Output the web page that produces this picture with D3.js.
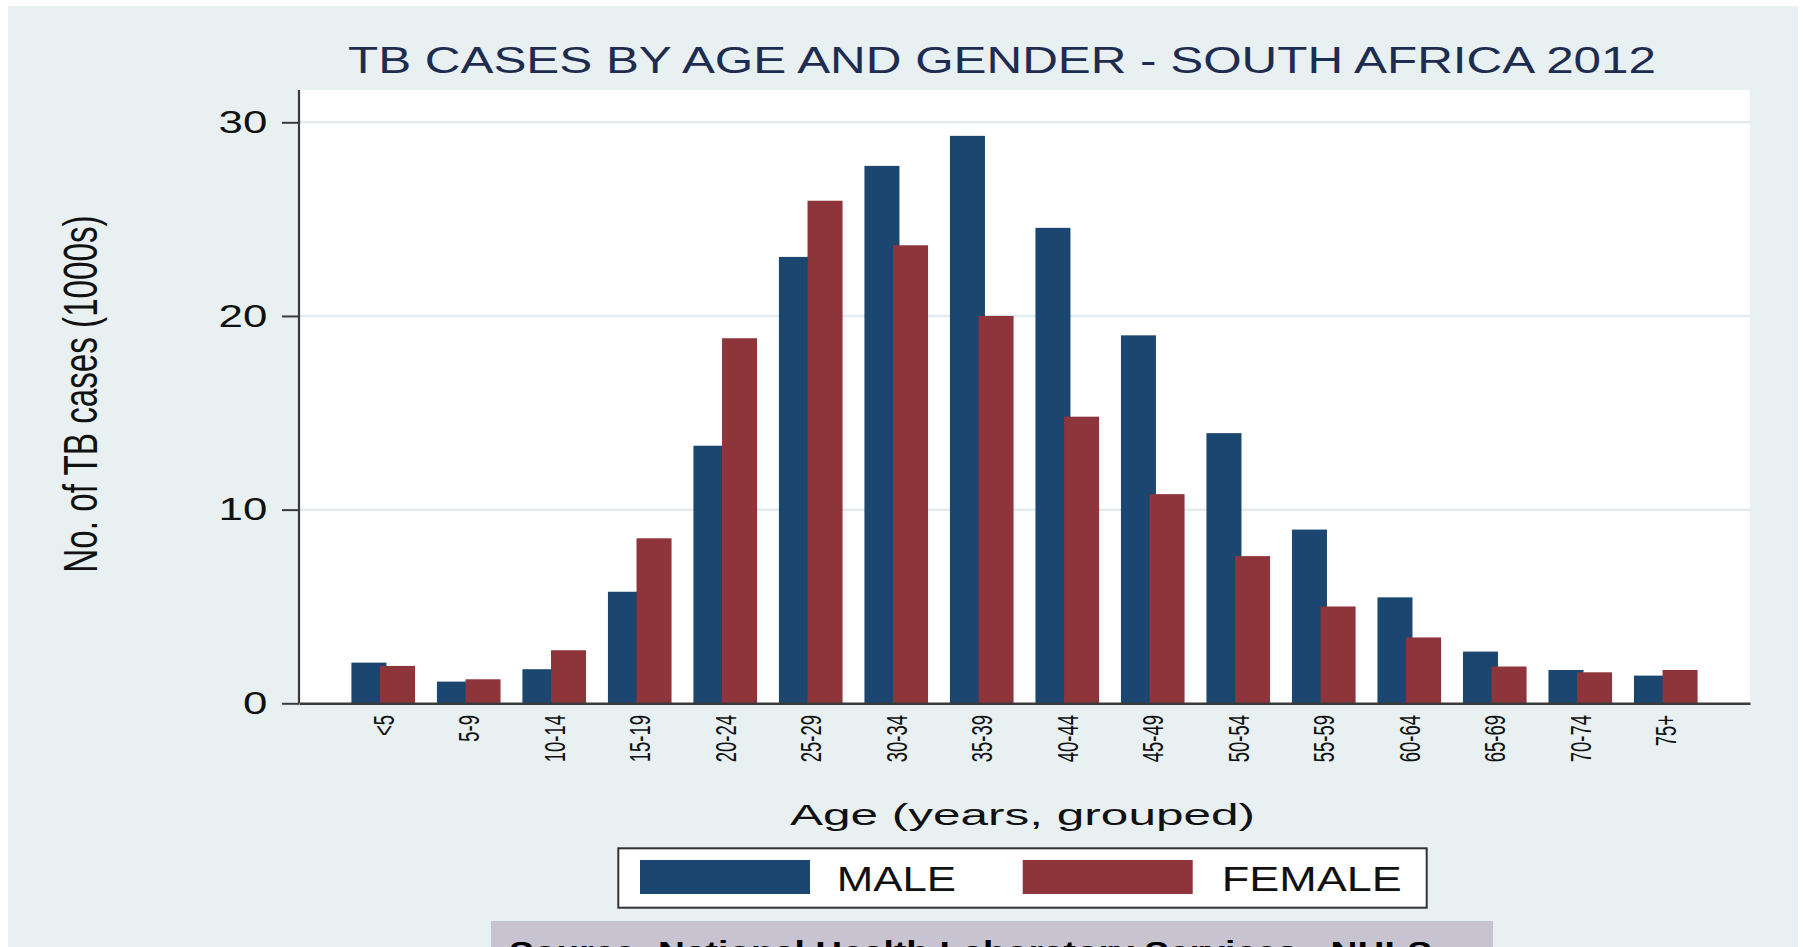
<!DOCTYPE html>
<html>
<head>
<meta charset="utf-8">
<script src="https://cdnjs.cloudflare.com/ajax/libs/d3/7.8.5/d3.min.js"></script>
<style>
  body { margin: 0; background: #ffffff; }
  svg { display: block; font-family: "Liberation Sans", Arial, sans-serif; }
</style>
</head>
<body>
<svg id="chart"></svg>
<script>
const ageGroups = ["<5", "5-9", "10-14", "15-19", "20-24", "25-29", "30-34", "35-39",
  "40-44", "45-49", "50-54", "55-59", "60-64", "65-69", "70-74", "75+"];
const maleCases = [2.1, 1.12, 1.76, 5.76, 13.3, 23.05, 27.75, 29.3,
  24.55, 19.0, 13.95, 8.97, 5.47, 2.67, 1.72, 1.43];
const femaleCases = [1.93, 1.24, 2.74, 8.52, 18.85, 25.95, 23.65, 20.0,
  14.8, 10.8, 7.6, 5.0, 3.4, 1.9, 1.6, 1.72];
const genders = ["MALE", "FEMALE"];
const yTicks = [0, 10, 20, 30];

const colors = { MALE: "#1a466f", FEMALE: "#8e343b" };

const W = 1803, H = 947;
const plot = { left: 299, right: 1750, top: 90, bottom: 703.3 };

const svg = d3.select("#chart").attr("width", W).attr("height", H);

// outer graph region
svg.append("rect")
  .attr("x", 8).attr("y", 6)
  .attr("width", 1790).attr("height", H - 6)
  .attr("fill", "#e8f0f2");

// plot region
svg.append("rect")
  .attr("x", plot.left).attr("y", plot.top)
  .attr("width", plot.right - plot.left).attr("height", plot.bottom - plot.top)
  .attr("fill", "#ffffff");

const x = d3.scaleBand()
  .domain(ageGroups)
  .range([plot.left, plot.right])
  .paddingInner(0.256)
  .paddingOuter(0.613);

const xInner = d3.scaleBand()
  .domain(genders)
  .range([0, x.bandwidth()])
  .paddingInner(-0.224)
  .paddingOuter(0);

const y = d3.scaleLinear().domain([0, 30]).range([plot.bottom, 122.3]);

// gridlines
svg.append("g")
  .selectAll("line")
  .data(yTicks.filter((d) => d > 0))
  .enter()
  .append("line")
  .attr("x1", plot.left)
  .attr("x2", plot.right)
  .attr("y1", (d) => y(d))
  .attr("y2", (d) => y(d))
  .attr("stroke", "#e2ebef")
  .attr("stroke-width", 2.5);

// bars
const rows = ageGroups.map((g, i) => ({ group: g, MALE: maleCases[i], FEMALE: femaleCases[i] }));

svg.append("g")
  .selectAll("g")
  .data(rows)
  .enter()
  .append("g")
  .attr("transform", (d) => `translate(${x(d.group)},0)`)
  .selectAll("rect")
  .data((d) => genders.map((k) => ({ key: k, value: d[k] })))
  .enter()
  .append("rect")
  .attr("x", (d) => xInner(d.key))
  .attr("y", (d) => y(d.value))
  .attr("width", xInner.bandwidth())
  .attr("height", (d) => y(0) - y(d.value))
  .attr("fill", (d) => colors[d.key]);

// y axis
const yAxis = d3.axisLeft(y).tickValues(yTicks).tickSize(17).tickPadding(14.7).tickSizeOuter(0);
const yG = svg.append("g").attr("transform", `translate(${plot.left},0)`).call(yAxis);
yG.select(".domain").remove();
yG.selectAll(".tick line").attr("stroke", "#3a3a3a").attr("stroke-width", 2);
yG.selectAll(".tick text")
  .attr("x", null)
  .attr("transform", "translate(-31.7,0) scale(1.37,1)")
  .attr("font-size", 32)
  .attr("fill", "#111");

svg.append("line")
  .attr("x1", plot.left).attr("x2", plot.left)
  .attr("y1", plot.top).attr("y2", plot.bottom)
  .attr("stroke", "#3a3a3a").attr("stroke-width", 2.2);

// x axis
const xAxis = d3.axisBottom(x).tickSize(0).tickSizeOuter(0);
const xG = svg.append("g").attr("transform", `translate(0,${plot.bottom})`).call(xAxis);
xG.select(".domain").attr("stroke", "#3a3a3a").attr("stroke-width", 2.6);
xG.selectAll(".tick text")
  .attr("y", null)
  .attr("dy", null)
  .attr("text-anchor", "end")
  .attr("font-size", 18.5)
  .attr("fill", "#111")
  .attr("transform", "translate(10.3,11.7) scale(1.55,1) rotate(-90)");

// title
svg.append("text")
  .attr("x", 348).attr("y", 73.3)
  .attr("font-size", 37)
  .attr("fill", "#1e2c50")
  .attr("textLength", 1308)
  .attr("lengthAdjust", "spacingAndGlyphs")
  .text("TB CASES BY AGE AND GENDER - SOUTH AFRICA 2012");

// y axis title
svg.append("text")
  .attr("transform", "translate(96.7,394) scale(1.45,1) rotate(-90)")
  .attr("text-anchor", "middle")
  .attr("font-size", 33.2)
  .attr("fill", "#111")
  .text("No. of TB cases (1000s)");

// x axis title
svg.append("text")
  .attr("x", 790).attr("y", 825)
  .attr("font-size", 30.3)
  .attr("fill", "#111")
  .attr("textLength", 465)
  .attr("lengthAdjust", "spacingAndGlyphs")
  .text("Age (years, grouped)");

// legend
svg.append("rect")
  .attr("x", 618.3).attr("y", 848.3)
  .attr("width", 808.4).attr("height", 59.4)
  .attr("fill", "#ffffff")
  .attr("stroke", "#333")
  .attr("stroke-width", 2);

const legendItems = [
  { key: "MALE", sx: 640, tx: 836.7, tw: 119.3 },
  { key: "FEMALE", sx: 1022.7, tx: 1221.7, tw: 180 },
];
legendItems.forEach((d) => {
  svg.append("rect")
    .attr("x", d.sx).attr("y", 860)
    .attr("width", 170).attr("height", 34)
    .attr("fill", colors[d.key]);
  svg.append("text")
    .attr("x", d.tx).attr("y", 891)
    .attr("font-size", 35)
    .attr("fill", "#111")
    .attr("textLength", d.tw)
    .attr("lengthAdjust", "spacingAndGlyphs")
    .text(d.key);
});

// source note (cut off at the bottom of the page)
svg.append("rect")
  .attr("x", 491).attr("y", 921)
  .attr("width", 1002).attr("height", 40)
  .attr("fill", "#c8c3d1");

svg.append("text")
  .attr("x", 509).attr("y", 962)
  .attr("font-size", 30)
  .attr("font-weight", "bold")
  .attr("fill", "#000")
  .attr("textLength", 923)
  .attr("lengthAdjust", "spacingAndGlyphs")
  .text("Source: National Health Laboratory Services - NHLS");
</script>
</body>
</html>
